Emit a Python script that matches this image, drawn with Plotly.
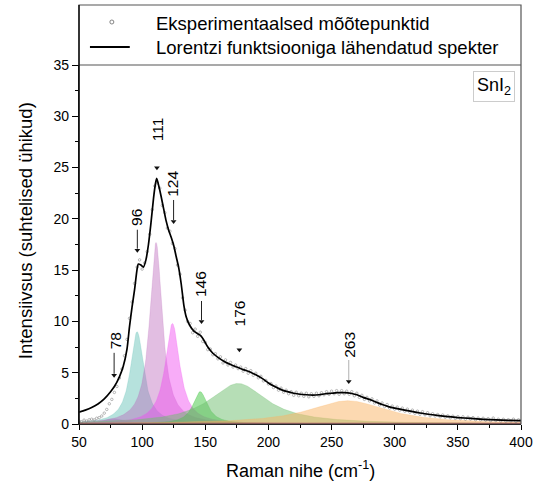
import numpy as np
import plotly.graph_objects as go

# ---------------- data ----------------
fit_x = [50, 55, 60, 65, 70, 75, 78, 82, 85, 88, 90, 92, 94, 96, 97, 99, 101, 103, 105, 107,
         109, 110.5, 111.5, 113, 115, 117, 119, 121, 123, 125, 127, 129, 131, 133, 135, 137.5,
         141, 144, 146.5, 149, 152, 156, 160, 165, 170, 175, 180, 185, 190, 195, 200, 205, 210,
         215, 220, 225, 230, 235, 240, 245, 250, 255, 260, 265, 270, 275, 280, 285, 290, 295,
         300, 310, 320, 330, 340, 350, 360, 370, 380, 390, 400]
fit_y = [1.15, 1.35, 1.6, 1.95, 2.45, 3.15, 3.65, 4.6, 5.6, 7.3, 9.5, 11.4, 13.1, 15.1, 15.6,
         15.5, 15.3, 16.0, 17.5, 19.6, 22.0, 23.4, 23.95, 23.3, 22.2, 21.0, 19.8, 18.9, 18.2,
         17.4, 16.3, 15.2, 13.6, 11.6, 10.4, 9.65, 9.05, 8.8, 8.6, 8.15, 7.5, 6.9, 6.5, 6.1,
         5.8, 5.55, 5.3, 5.1, 4.8, 4.45, 4.0, 3.65, 3.35, 3.15, 3.0, 2.9, 2.85, 2.82, 2.85,
         2.95, 3.0, 3.05, 3.05, 3.0, 2.85, 2.6, 2.4, 2.15, 1.9, 1.7, 1.55, 1.3, 1.07, 0.9,
         0.75, 0.63, 0.54, 0.46, 0.4, 0.36, 0.32]

exp_x = list(range(50, 401, 2))
exp_y = [0.30, 0.22, 0.38, 0.28, 0.41, 0.47, 0.40, 0.56, 0.62, 0.78, 1.06, 1.42, 1.97, 2.40,
         3.08, 3.66, 4.48, 5.36, 6.65, 8.25, 10.3, 11.9, 13.7, 15.3, 16.0, 15.1, 15.7, 16.8,
         18.5, 20.9, 23.2, 23.5, 23.0, 21.3, 20.6, 19.1, 18.8, 17.6, 17.1, 15.5, 14.6, 12.3,
         11.1, 10.0, 9.8, 8.9, 9.25, 8.55, 8.95, 8.05, 7.95, 7.25, 7.3, 6.75, 6.85, 6.35,
         6.55, 5.95, 6.25, 5.75, 6.0, 5.55, 5.75, 5.4, 5.55, 5.15, 5.4, 4.95, 5.2, 4.75,
         4.95, 4.5, 4.65, 4.2, 4.25, 3.9, 3.95, 3.55, 3.7, 3.3, 3.5, 3.1, 3.3, 2.95, 3.15,
         2.8, 3.1, 2.75, 3.0, 2.7, 3.0, 2.65, 2.95, 2.7, 3.0, 2.75, 3.05, 2.85, 3.15, 2.9,
         3.2, 2.95, 3.25, 2.9, 3.25, 2.95, 3.2, 2.9, 3.15, 2.75, 3.0, 2.6, 2.8, 2.4, 2.6,
         2.25, 2.45, 2.05, 2.25, 1.85, 2.05, 1.7, 1.9, 1.55, 1.75, 1.45, 1.65, 1.35, 1.55,
         1.25, 1.45, 1.15, 1.35, 1.05, 1.25, 0.95, 1.2, 0.9, 1.1, 0.8, 1.0, 0.78, 0.92, 0.7,
         0.88, 0.66, 0.8, 0.6, 0.76, 0.55, 0.72, 0.52, 0.7, 0.47, 0.66, 0.48, 0.62, 0.42,
         0.58, 0.4, 0.56, 0.38, 0.52, 0.33, 0.58, 0.34, 0.47, 0.29, 0.46, 0.28, 0.42, 0.3,
         0.47, 0.24, 0.41, 0.29]

# Lorentz components: centre (cm-1), height, FWHM
comp_center = [78, 96, 111, 124, 146, 176, 263]
comp_height = [0.5, 9.0, 17.7, 9.8, 3.15, 3.95, 2.27]
comp_fwhm = [22, 13, 12, 14, 14, 55, 76]
comp_color = ["rgba(200,110,200,0.45)", "rgba(80,185,175,0.42)", "rgba(185,100,185,0.42)",
              "rgba(240,70,240,0.45)", "rgba(40,190,40,0.45)", "rgba(110,190,110,0.5)",
              "rgba(250,180,100,0.5)"]

peak_labels = ["78", "96", "111", "124", "146", "176", "263"]
label_x = [79.6, 96.0, 112.3, 124.3, 146.7, 176.9, 263.6]
label_y = [8.1, 20.1, 28.7, 23.4, 13.65, 10.8, 7.7]
tip_x = [77.8, 96.2, 111.7, 124.9, 147.0, 177.0, 263.6]
tip_y = [4.5, 16.7, 24.75, 19.5, 9.75, 7.0, 3.9]
shaft_px = [25, 23, 0, 24, 23, 0, 24]
shaft_color = ["#222222", "#222222", "#222222", "#222222", "#222222", "#222222", "#b0b0b0"]

x_ticks = [50, 100, 150, 200, 250, 300, 350, 400]
y_ticks = [0, 5, 10, 15, 20, 25, 30, 35]

FONT = "Liberation Sans, Arial, sans-serif"
PX_PER_UNIT_Y = 359 / 35.0

fig = go.Figure()

grid = np.arange(50, 400.01, 0.5)
for c, h, w, col in zip(comp_center, comp_height, comp_fwhm, comp_color):
    yv = h / (1 + ((grid - c) / (w / 2)) ** 2)
    fig.add_trace(go.Scatter(x=grid, y=yv, mode="lines", fill="tozeroy", fillcolor=col,
                             line=dict(color=col, width=0.5), showlegend=False,
                             hoverinfo="skip"))

fig.add_trace(go.Scatter(x=[50, 400], y=[0.04, 0.04], mode="lines",
                         line=dict(color="#b86060", width=1.5), showlegend=False))

fig.add_trace(go.Scatter(x=exp_x, y=exp_y, mode="markers",
                         marker=dict(symbol="circle-open", size=2.5,
                                     color="#777777", line=dict(width=0.5, color="#777777")),
                         showlegend=False))
fig.add_trace(go.Scatter(x=fit_x, y=fit_y, mode="lines", line=dict(color="black", width=1.7,
                                                                   shape="spline", smoothing=0.6),
                         showlegend=False))

# arrow heads (small down-pointing triangles just above each tip)
head_y = [ty + 2.5 / PX_PER_UNIT_Y for ty in tip_y]
fig.add_trace(go.Scatter(x=tip_x, y=head_y, mode="markers",
                         marker=dict(symbol="triangle-down", size=5, color="#111111",
                                     line=dict(width=0)),
                         showlegend=False, hoverinfo="skip"))

annotations = []
shapes = []
for t, lx, ly, tx, ty, sl, sc in zip(peak_labels, label_x, label_y, tip_x, tip_y,
                                     shaft_px, shaft_color):
    annotations.append(dict(x=lx, y=ly, xref="x", yref="y", text=t, showarrow=False,
                            textangle=-90, font=dict(family=FONT, size=15.5, color="black")))
    if sl > 0:
        shapes.append(dict(type="line", xref="x", yref="y", ysizemode="pixel", yanchor=ty,
                           x0=tx, x1=tx, y0=4, y1=sl, line=dict(color=sc, width=1)))

# axis titles
annotations.append(dict(x=-0.1216, y=0.5376, xref="paper", yref="paper", xanchor="center",
                        yanchor="middle",
                        text="Intensiivsus (suhtelised ühikud)", textangle=-90, showarrow=False,
                        font=dict(family=FONT, size=18.5, color="black")))
annotations.append(dict(x=0.502, y=-0.128, xref="paper", yref="paper", xanchor="center",
                        yanchor="middle",
                        text="Raman nihe (cm<sup>-1</sup>)", showarrow=False,
                        font=dict(family=FONT, size=18, color="black")))
# SnI2 label
annotations.append(dict(x=(495.5 - 79) / 444, y=(424 - 86.5) / 359, xref="paper", yref="paper",
                        xanchor="center", yanchor="middle",
                        text="SnI<sub>2</sub>", showarrow=False, bordercolor="#cccccc",
                        borderwidth=1, borderpad=3, bgcolor="white",
                        font=dict(family=FONT, size=18, color="black")))
# legend texts
top_frame = 1 + 60 / 359
annotations.append(dict(x=(154 - 79) / 444, y=(424 - 23) / 359, xref="paper", yref="paper",
                        xanchor="left", yanchor="middle",
                        text="Eksperimentaalsed mõõtepunktid", showarrow=False,
                        font=dict(family=FONT, size=18.5, color="black")))
annotations.append(dict(x=(154 - 79) / 444, y=(424 - 47) / 359, xref="paper", yref="paper",
                        xanchor="left", yanchor="middle",
                        text="Lorentzi funktsiooniga lähendatud spekter",
                        showarrow=False, font=dict(family=FONT, size=18.5, color="black")))

shapes += [
    dict(type="rect", xref="paper", yref="paper", x0=0, x1=1, y0=0, y1=top_frame,
         line=dict(color="#555555", width=1.2)),
    dict(type="line", xref="paper", yref="paper", x0=0, x1=1, y0=1, y1=1,
         line=dict(color="#555555", width=1.2)),
    dict(type="line", xref="paper", yref="paper", x0=(90 - 79) / 444, x1=(130 - 79) / 444,
         y0=(424 - 47) / 359, y1=(424 - 47) / 359, line=dict(color="black", width=2)),
    dict(type="circle", xref="paper", yref="paper", xsizemode="pixel", ysizemode="pixel",
         xanchor=(112 - 79) / 444, yanchor=(424 - 22) / 359, x0=-2, x1=2, y0=-2, y1=2,
         line=dict(color="#666666", width=0.8)),
    dict(type="line", xref="paper", yref="paper", x0=0, x1=0, y0=0, y1=top_frame,
         line=dict(color="black", width=1.3)),
]

fig.update_layout(
    width=545, height=487,
    margin=dict(l=79, r=22, t=65, b=63),
    paper_bgcolor="white", plot_bgcolor="white",
    showlegend=False,
    annotations=annotations, shapes=shapes,
    font=dict(family=FONT, size=14, color="black"),
)
fig.update_xaxes(range=[50, 400], tickvals=x_ticks, ticks="outside", ticklen=5, tickwidth=1,
                 tickcolor="black", showline=True, linecolor="black", linewidth=1,
                 showgrid=False, zeroline=False, tickfont=dict(family=FONT, size=14),
                 minor=dict(ticks="outside", ticklen=3, dtick=25, tickcolor="black",
                            showgrid=False))
fig.update_yaxes(range=[0, 35], tickvals=y_ticks, ticks="outside", ticklen=6, tickwidth=1,
                 tickcolor="black", showline=True, linecolor="black", linewidth=1.3,
                 showgrid=False, zeroline=False, tickfont=dict(family=FONT, size=14),
                 minor=dict(ticks="outside", ticklen=3, dtick=2.5, tickcolor="black",
                            showgrid=False))

fig.write_html("out.html")
